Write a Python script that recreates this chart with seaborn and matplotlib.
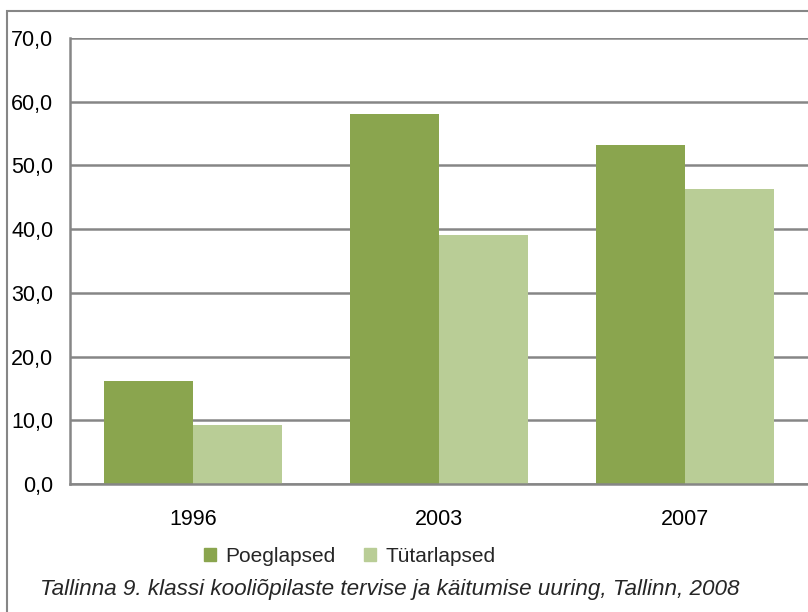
import numpy as np
import pandas as pd
import seaborn as sns
import matplotlib.pyplot as plt
from matplotlib.patches import Rectangle
from matplotlib.ticker import FuncFormatter

years = ['1996', '2003', '2007']
groups = ['Poeglapsed', 'Tütarlapsed']
poeglapsed = [16.1, 58.1, 53.2]
tutarlapsed = [9.2, 39.1, 46.3]
y_ticks = [0, 10, 20, 30, 40, 50, 60, 70]
caption = 'Tallinna 9. klassi kooliõpilaste tervise ja käitumise uuring, Tallinn, 2008'

df = pd.DataFrame({
    'year': years * 2,
    'group': [groups[0]] * 3 + [groups[1]] * 3,
    'value': poeglapsed + tutarlapsed,
})

sns.set_style('white')
plt.rcParams['font.family'] = ['Liberation Sans', 'DejaVu Sans']

grid_col = '#868686'
colors = ['#8AA54E', '#B9CD96']

fig = plt.figure(figsize=(8.08, 6.12), dpi=100)
# outer chart frame (right and bottom edges are off the picture)
fig.patches.append(Rectangle((7 / 808, -0.1), 1.2, (612 - 11) / 612 + 0.1,
                             transform=fig.transFigure, fill=False,
                             edgecolor=grid_col, linewidth=1.5))

ax = fig.add_axes([70 / 808, 1 - 484 / 612, 1 - 70 / 808, (484 - 38) / 612])
sns.barplot(data=df, x='year', y='value', hue='group', palette=colors,
            width=0.72, gap=0, saturation=1, linewidth=0, ax=ax, legend=False)

ax.set_ylim(0, 70)
ax.set_xlim(-0.5, 2.5)
ax.set_yticks(y_ticks)
ax.yaxis.set_major_formatter(FuncFormatter(lambda v, p: f'{v:.1f}'.replace('.', ',')))
ax.yaxis.grid(True, color=grid_col, linewidth=1.8)
ax.set_axisbelow(True)
ax.set_xlabel('')
ax.set_ylabel('')
ax.tick_params(axis='both', length=0, labelsize=15.5, colors='black')
ax.tick_params(axis='y', pad=12)
ax.tick_params(axis='x', pad=18)
for s in ['top', 'right']:
    ax.spines[s].set_visible(False)
for s in ['left', 'bottom']:
    ax.spines[s].set_color(grid_col)
    ax.spines[s].set_linewidth(1.8)

handles = [Rectangle((0, 0), 1, 1, color=c) for c in colors]
fig.legend(handles, groups, loc='center', bbox_to_anchor=(349.5 / 808, 1 - 556 / 612),
           ncol=2, frameon=False, fontsize=15, handlelength=0.58, handleheight=0.58,
           handletextpad=0.43, columnspacing=1.39)

fig.text(40 / 808, 1 - 589 / 612, caption, fontsize=16.2, style='italic',
         ha='left', va='center')

fig.savefig('out.png', dpi=100)
plt.close(fig)
